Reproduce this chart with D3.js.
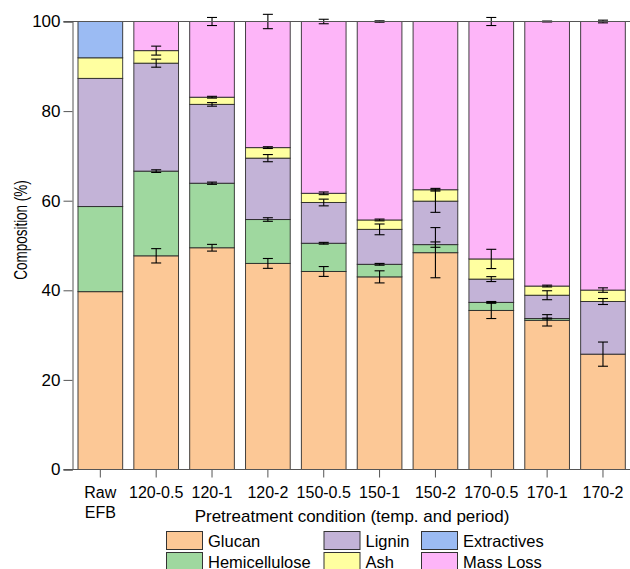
<!DOCTYPE html>
<html>
<head>
<meta charset="utf-8">
<script src="https://cdn.jsdelivr.net/npm/d3@7"></script>
<style>
  html, body { margin: 0; padding: 0; background: #fff; }
  svg { display: block; }
  text { font-family: "Liberation Sans", Arial, Helvetica, sans-serif; fill: #000; }
</style>
</head>
<body>
<svg id="chart" width="630" height="569"></svg>
<script>
// ---- Data ----
const categories = ["Raw EFB", "120-0.5", "120-1", "120-2", "150-0.5", "150-1", "150-2", "170-0.5", "170-1", "170-2"];
const seriesNames = ["Glucan", "Hemicellulose", "Lignin", "Ash", "Extractives", "Mass Loss"];
const seriesColors = ["#FCC896", "#9FD89F", "#C3B3D7", "#FFFFA0", "#9BBBF3", "#FDB5F8"];

const glucan        = [39.7, 47.7, 49.5, 46.0, 44.2, 43.0, 48.4, 35.5, 33.3, 25.75];
const hemicellulose = [19.0, 18.9, 14.4,  9.8,  6.3,  2.8,  1.8,  1.8,  0.4,  0.0];
const lignin        = [28.6, 24.1, 17.6, 13.7,  9.1,  7.8,  9.7,  5.2,  5.2, 11.75];
const ash           = [ 4.6,  2.8,  1.6,  2.35, 2.05, 2.1,  2.55, 4.5,  2.05, 2.55];
const extractives   = [ 8.1,  0,    0,    0,    0,    0,    0,    0,    0,    0];
const massLoss      = [ 0,    6.5, 16.9, 28.15, 38.35, 44.3, 37.55, 53.0, 59.05, 59.95];

const glucanErr        = [0, 1.6, 0.75, 1.1, 1.1, 1.35, 5.6, 1.8, 1.27, 2.7];
const hemicelluloseErr = [0, 0.3, 0.25, 0.4, 0.2, 0.2, 0.6, 0.2, 0.1, 0];
const ligninErr        = [0, 0.9, 0.4, 0.8, 0.75, 1.2, 2.5, 0.55, 1.0, 0.67];
const ashErr           = [0, 1.0, 0.2, 0.2, 0.3, 0.2, 0.3, 2.15, 0.2, 0.5];
const extractivesErr   = [0, 0, 0, 0, 0, 0, 0, 0, 0, 0];
const massLossErr      = [0, 0, 0.9, 1.6, 0.5, 0.15, 0, 0.9, 0.1, 0.3];

const yTicks = [0, 20, 40, 60, 80, 100];
const xTitle = "Pretreatment condition (temp. and period)";
const yTitle = "Composition (%)";

// ---- Build table ----
const valueArrays = [glucan, hemicellulose, lignin, ash, extractives, massLoss];
const errArrays = [glucanErr, hemicelluloseErr, ligninErr, ashErr, extractivesErr, massLossErr];
const table = categories.map((c, i) => {
  const row = { category: c };
  seriesNames.forEach((s, k) => { row[s] = valueArrays[k][i]; });
  return row;
});

const svg = d3.select("#chart");
const x = d3.scaleBand().domain(categories).range([72.4, 630.9]).paddingInner(0.2).paddingOuter(0.1);
const y = d3.scaleLinear().domain([0, 100]).range([469.5, 21.5]);

const stack = d3.stack().keys(seriesNames);
const stacked = stack(table);

// bars
const layers = svg.append("g").selectAll("g").data(stacked).join("g")
  .attr("fill", (d, k) => seriesColors[k]);
layers.selectAll("rect").data(d => d).join("rect")
  .attr("x", d => x(d.data.category))
  .attr("width", x.bandwidth())
  .attr("y", d => y(d[1]))
  .attr("height", d => Math.max(0, y(d[0]) - y(d[1])))
  .attr("stroke", "#222")
  .attr("stroke-opacity", 0.85)
  .attr("stroke-width", 1);

// error bars at each segment's top
const errG = svg.append("g").attr("stroke", "#000").attr("stroke-width", 1.1);
stacked.forEach((layer, k) => {
  layer.forEach((d, i) => {
    const e = errArrays[k][i];
    if (!e || (d[1] - d[0]) <= 0 && k !== 1) return;
    const cx = x(d.data.category) + x.bandwidth() / 2;
    const yt = y(d[1] + e), yb = y(d[1] - e);
    errG.append("line").attr("x1", cx).attr("x2", cx).attr("y1", yt).attr("y2", yb);
    errG.append("line").attr("x1", cx - 5).attr("x2", cx + 5).attr("y1", yt).attr("y2", yt);
    errG.append("line").attr("x1", cx - 5).attr("x2", cx + 5).attr("y1", yb).attr("y2", yb);
  });
});

// axes
const axisColor = "#555";
const yAxis = d3.axisLeft(y).tickValues(yTicks).tickSize(9).tickPadding(3);
const gy = svg.append("g").attr("transform", "translate(72.5,0)").call(yAxis);
gy.selectAll("path, line").attr("stroke", axisColor);
gy.selectAll("text").style("font-size", "17px").style("font-family", "'Liberation Sans', Arial, sans-serif").attr("fill", "#000");

// top frame line and bottom axis line
svg.append("line").attr("x1", 63.5).attr("x2", 630).attr("y1", y(100)).attr("y2", y(100)).attr("stroke", axisColor);
const xAxis = d3.axisBottom(x).tickSize(8).tickFormat("");
const gx = svg.append("g").attr("transform", `translate(0,${y(0)})`).call(xAxis);
gx.select(".domain").remove();
gx.selectAll("line").attr("stroke", axisColor);
svg.append("line").attr("x1", 63.5).attr("x2", 630).attr("y1", y(0)).attr("y2", y(0)).attr("stroke", axisColor);

// x tick labels
const xl = svg.append("g");
categories.forEach(c => {
  const cx = x(c) + x.bandwidth() / 2;
  const parts = c.split(" ");
  const t = xl.append("text").attr("x", cx).attr("y", 498).attr("text-anchor", "middle").style("font-size", "16px");
  parts.forEach((p, j) => {
    t.append("tspan").attr("x", cx).attr("dy", j === 0 ? 0 : 20).text(p);
  });
});

// axis titles
svg.append("text").attr("x", 352).attr("y", 522).attr("text-anchor", "middle").style("font-size", "17px").text(xTitle);
svg.append("text").attr("transform", "translate(27,230) rotate(-90) scale(1,1.3)").attr("text-anchor", "middle").style("font-size", "13.5px").text(yTitle);

// legend (column-major, 2 rows)
const legendCols = [166, 323.5, 421];
const legendRows = [531, 552];
const lg = svg.append("g");
seriesNames.forEach((s, k) => {
  const col = Math.floor(k / 2), row = k % 2;
  const lx = legendCols[col], ly = legendRows[row];
  lg.append("rect").attr("x", lx + 0.5).attr("y", ly + 0.5).attr("width", 36).attr("height", 18)
    .attr("fill", seriesColors[k]).attr("stroke", "#333").attr("stroke-width", 1);
  lg.append("text").attr("x", lx + 42).attr("y", ly + 15.5).style("font-size", "16.5px").text(s);
});
</script>
</body>
</html>
